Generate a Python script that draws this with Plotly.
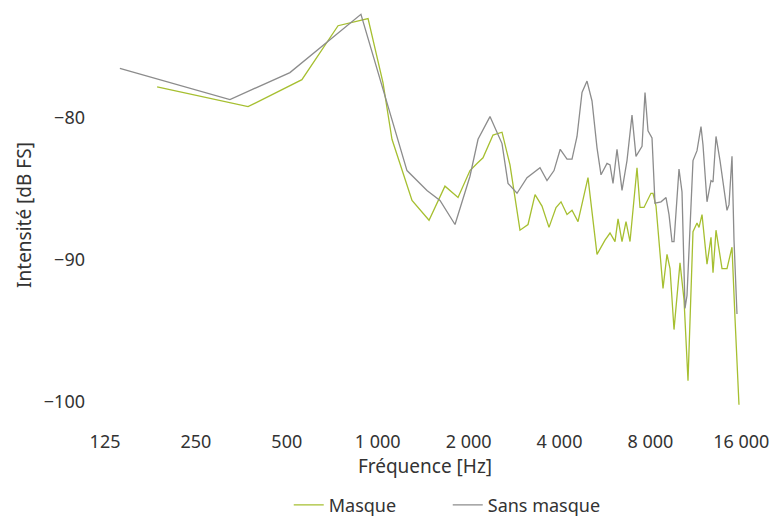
import plotly.graph_objects as go

# Sans masque (grey)
freq_sans = [140, 324, 512, 880, 1250, 1456, 1608, 1803, 2021, 2149, 2354, 2580, 2701, 2893,
             3122, 3447, 3636, 3836, 4022, 4236, 4400, 4571, 4749, 4933, 5125, 5324, 5489,
             5746, 5879, 6015, 6201, 6442, 6692, 6952, 7167, 7504, 7678, 7854, 8098, 8285,
             8674, 9011, 9219, 9432, 9577, 9949, 10179, 10415, 10575, 11070, 11413, 11766,
             11947, 12318, 12699, 12894, 13193, 13602, 14345, 14566, 14903, 15133, 15482]
db_sans = [-76.5, -78.7, -76.8, -72.7, -83.7, -85.1, -85.8, -87.5, -84.1, -81.5, -79.9, -81.8,
           -84.6, -85.3, -84.2, -83.5, -84.4, -83.7, -82.2, -82.9, -82.9, -81.3, -78.2, -77.4,
           -78.8, -82.1, -84.0, -83.2, -83.3, -84.6, -82.2, -85.1, -83.0, -79.8, -82.7, -82.0,
           -78.2, -80.9, -81.4, -86.0, -85.9, -85.6, -86.8, -88.7, -88.7, -83.6, -85.2, -93.4,
           -92.5, -83.0, -82.3, -80.6, -81.9, -85.9, -84.4, -84.5, -81.3, -83.0, -86.5, -86.1,
           -82.7, -88.6, -93.8]

# Masque (green)
freq_masque = [186, 372, 561, 739, 929, 1041, 1115, 1299, 1479, 1670, 1845, 2021, 2132, 2232,
               2409, 2580, 2742, 2959, 3146, 3319, 3500, 3692, 3895, 4046, 4236, 4400, 4606,
               4970, 5324, 5659, 5879, 6107, 6250, 6442, 6642, 6848, 7223, 7390, 7619, 8033,
               8160, 8349, 8807, 9079, 9290, 9577, 10026, 10337, 10656, 11070, 11413, 11589,
               11857, 12318, 12699, 12894, 13193, 13811, 14345, 14903, 15249, 15720]
db_masque = [-77.8, -79.2, -77.3, -73.5, -73.0, -77.5, -81.5, -85.8, -87.2, -84.8, -85.6, -83.7,
             -83.2, -82.8, -81.2, -81.0, -83.3, -87.9, -87.5, -85.4, -86.2, -87.7, -86.3, -85.9,
             -86.8, -86.5, -87.3, -84.2, -89.6, -88.6, -88.1, -88.7, -87.1, -88.7, -87.3, -88.7,
             -83.5, -86.3, -86.3, -85.3, -85.3, -86.2, -92.0, -89.6, -90.6, -94.9, -90.2, -92.8,
             -98.5, -88.0, -87.4, -87.7, -86.8, -90.3, -88.4, -90.9, -87.9, -90.6, -90.6, -89.1,
             -94.1, -100.2]

x_tickvals = [125, 250, 500, 1000, 2000, 4000, 8000, 16000]
x_ticktext = ["125", "250", "500", "1 000", "2 000", "4 000", "8 000", "16 000"]
y_tickvals = [-80, -90, -100]
y_ticktext = ["\u221280", "\u221290", "\u2212100"]

GREEN = "#a6bf30"
GREY = "#8c8c8c"
TEXT = "#333333"
FONT = "Noto Sans"
FS = 19
TICK_FS = 18

fig = go.Figure()
fig.add_trace(go.Scatter(x=freq_masque, y=db_masque, mode="lines", name="Masque",
                         line=dict(color=GREEN, width=1.3)))
fig.add_trace(go.Scatter(x=freq_sans, y=db_sans, mode="lines", name="Sans masque",
                         line=dict(color=GREY, width=1.3)))

fig.update_layout(
    width=775, height=517,
    margin=dict(l=100, r=25, t=5, b=92, autoexpand=False),
    paper_bgcolor="white", plot_bgcolor="white",
    font=dict(family=FONT, size=FS, color=TEXT),
    showlegend=True,
    hovermode=False,
    legend=dict(orientation="h", x=0.535, xanchor="center",
                yref="container", y=0.023, yanchor="middle",
                font=dict(size=18, color=TEXT), itemwidth=30, traceorder="normal",
                entrywidth=114, entrywidthmode="pixels"),
)
fig.update_xaxes(type="log", range=[2.0803, 4.2329], tickvals=x_tickvals, ticktext=x_ticktext,
                 tickfont=dict(size=TICK_FS, color=TEXT), automargin=False,
                 showgrid=False, zeroline=False, showline=False, ticks="",
                 ticklabelstandoff=4,
                 title=dict(text="Fréquence [Hz]", standoff=3, font=dict(size=FS, color=TEXT)))
fig.update_yaxes(range=[-101.62, -72.04], tickvals=y_tickvals, ticktext=y_ticktext,
                 tickfont=dict(size=TICK_FS, color=TEXT), automargin=False,
                 showgrid=False, zeroline=False, showline=False, ticks="",
                 ticklabelstandoff=14,
                 title=dict(text="Intensité [dB FS]", standoff=7, font=dict(size=FS, color=TEXT)))

fig.write_html("out.html", config={"displayModeBar": False},
               post_script="document.body.style.margin='0';document.body.style.overflow='hidden';")
